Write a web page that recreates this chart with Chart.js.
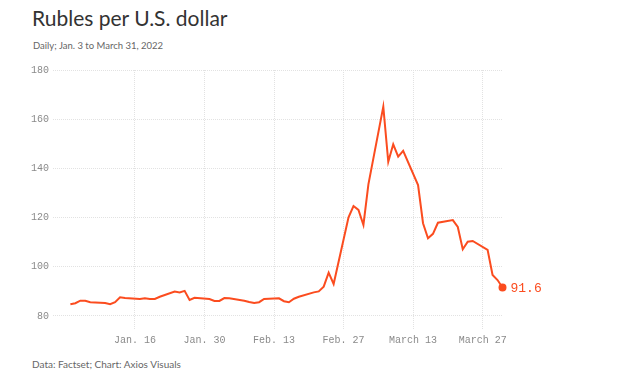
<!DOCTYPE html>
<html>
<head>
<meta charset="utf-8">
<script src="https://cdn.jsdelivr.net/npm/chart.js@4.4.1/dist/chart.umd.min.js"></script>
<style>
  html, body { margin: 0; padding: 0; background: #fff; }
  body { width: 624px; height: 373px; position: relative; overflow: hidden; font-family: Lato, "Noto Sans", sans-serif; }
  #title { position: absolute; left: 32px; top: 4.5px; font-size: 21px; color: #333; }
  #subtitle { position: absolute; left: 33px; top: 40px; font-size: 9.5px; color: #666; }
  #source { position: absolute; left: 32px; top: 358px; font-size: 10px; color: #666; }
  #wrap { position: absolute; left: 0; top: 0; width: 624px; height: 373px; }
</style>
</head>
<body>
<div id="title">Rubles per U.S. dollar</div>
<div id="subtitle">Daily; Jan. 3 to March 31, 2022</div>
<div id="source">Data: Factset; Chart: Axios Visuals</div>
<div id="wrap"><canvas id="rubleChart" width="624" height="373"></canvas></div>
<script>
// trading days and RUB per USD
const dates = [
  '2022-01-03', '2022-01-04', '2022-01-05', '2022-01-06', '2022-01-07',
  '2022-01-10', '2022-01-11', '2022-01-12', '2022-01-13', '2022-01-14',
  '2022-01-17', '2022-01-18', '2022-01-19', '2022-01-20', '2022-01-21',
  '2022-01-24', '2022-01-25', '2022-01-26', '2022-01-27', '2022-01-28',
  '2022-01-31', '2022-02-01', '2022-02-02', '2022-02-03', '2022-02-04',
  '2022-02-07', '2022-02-08', '2022-02-09', '2022-02-10', '2022-02-11',
  '2022-02-14', '2022-02-15', '2022-02-16', '2022-02-17', '2022-02-18',
  '2022-02-21', '2022-02-22', '2022-02-23', '2022-02-24', '2022-02-25',
  '2022-02-28', '2022-03-01', '2022-03-02', '2022-03-03', '2022-03-04',
  '2022-03-07', '2022-03-08', '2022-03-09', '2022-03-10', '2022-03-11',
  '2022-03-14', '2022-03-15', '2022-03-16', '2022-03-17', '2022-03-18',
  '2022-03-21', '2022-03-22', '2022-03-23', '2022-03-24', '2022-03-25',
  '2022-03-28', '2022-03-29', '2022-03-30', '2022-03-31'
];
const rubles = [
  84.8, 85.2, 86.2, 86.2, 85.6,
  85.3, 84.8, 85.6, 87.6, 87.3,
  86.9, 87.2, 86.9, 86.9, 87.8,
  89.9, 89.6, 90.2, 86.5, 87.4,
  86.9, 86.1, 86.1, 87.3, 87.2,
  86.2, 85.7, 85.3, 85.6, 86.9,
  87.2, 86.0, 85.6, 87.0, 87.8,
  89.6, 90.0, 91.9, 97.6, 93.0,
  120.1, 124.7, 123.1, 117.0, 133.5,
  165.1, 142.7, 149.8, 144.8, 147.1,
  133.2, 117.7, 111.6, 113.4, 117.9,
  119.0, 116.2, 107.1, 110.2, 110.5,
  106.9, 96.7, 94.6, 91.6
];
const tickDates = ['2022-01-16', '2022-01-30', '2022-02-13', '2022-02-27', '2022-03-13', '2022-03-27'];
const tickLabels = ['Jan. 16', 'Jan. 30', 'Feb. 13', 'Feb. 27', 'March 13', 'March 27'];
const yTicks = [80, 100, 120, 140, 160, 180];

const lineColor = '#fb4c1f';
const gridColor = '#e2e2e2';
const monoFont = '"Liberation Mono", "DejaVu Sans Mono", monospace';

// day of year, Jan. 1 = 1
function dayOfYear(s) {
  const [y, m, d] = s.split('-').map(Number);
  return (Date.UTC(y, m - 1, d) - Date.UTC(y, 0, 1)) / 86400000 + 1;
}

const points = dates.map((d, i) => ({ x: dayOfYear(d), y: rubles[i] }));
const tickDays = tickDates.map(dayOfYear);
const lastIndex = points.length - 1;

const endLabel = {
  id: 'endLabel',
  afterDatasetsDraw(chart) {
    const meta = chart.getDatasetMeta(0);
    const pt = meta.data[lastIndex];
    const ctx = chart.ctx;
    ctx.save();
    ctx.font = '13px ' + monoFont;
    ctx.fillStyle = lineColor;
    ctx.textAlign = 'left';
    ctx.textBaseline = 'middle';
    ctx.fillText(rubles[lastIndex].toFixed(1), pt.x + 8, pt.y + 1);
    ctx.restore();
  }
};

new Chart(document.getElementById('rubleChart').getContext('2d'), {
  type: 'line',
  data: {
    datasets: [{
      data: points,
      borderColor: lineColor,
      backgroundColor: lineColor,
      borderWidth: 2,
      tension: 0,
      pointRadius: ctx => ctx.dataIndex === lastIndex ? 3 : 0,
      pointHoverRadius: 0,
      clip: false
    }]
  },
  options: {
    responsive: false,
    animation: false,
    devicePixelRatio: 1,
    layout: { padding: { top: 70, left: 0, right: 121.5, bottom: 0 } },
    plugins: {
      legend: { display: false },
      tooltip: { enabled: false }
    },
    scales: {
      x: {
        type: 'linear',
        min: -0.5,
        max: 90,
        afterBuildTicks: axis => { axis.ticks = tickDays.map(v => ({ value: v })); },
        afterFit: axis => { axis.height = 43; },
        ticks: {
          autoSkip: false,
          maxRotation: 0,
          padding: 4,
          color: '#8a8a8a',
          font: { family: monoFont, size: 10 },
          callback: v => tickLabels[tickDays.indexOf(v)]
        },
        grid: { color: gridColor, drawTicks: false },
        border: { display: false, dash: [1, 1] }
      },
      y: {
        min: 74.3,
        max: 180,
        afterBuildTicks: axis => { axis.ticks = yTicks.map(v => ({ value: v })); },
        afterFit: axis => { axis.width = 53; },
        ticks: {
          padding: 4,
          color: '#8a8a8a',
          font: { family: monoFont, size: 10 }
        },
        grid: { color: gridColor, drawTicks: false },
        border: { display: false, dash: [1, 1] }
      }
    }
  },
  plugins: [endLabel]
});
</script>
</body>
</html>
